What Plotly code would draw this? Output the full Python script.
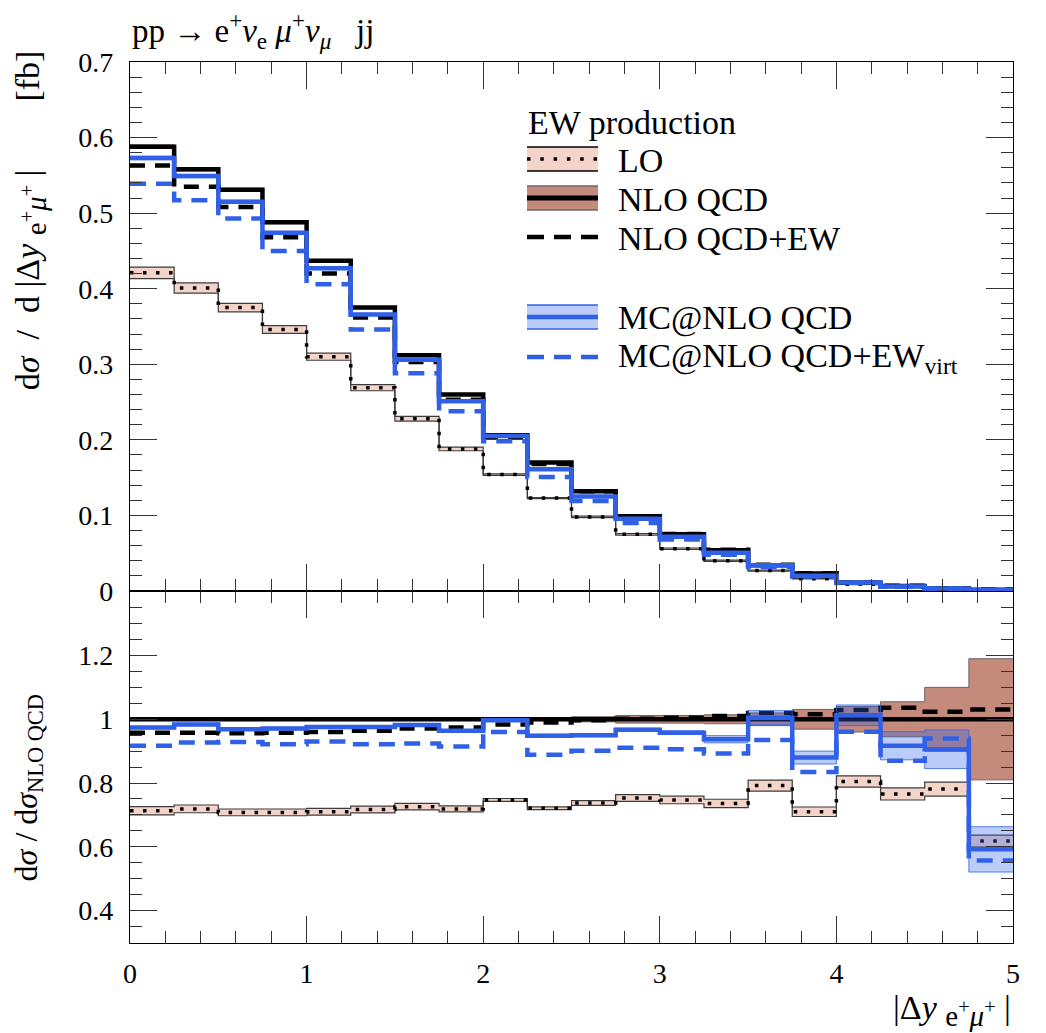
import plotly.graph_objects as go

# ---------------- data ----------------
bin_edges = [0.0, 0.25, 0.5, 0.75, 1.0, 1.25, 1.5, 1.75, 2.0, 2.25, 2.5,
             2.75, 3.0, 3.25, 3.5, 3.75, 4.0, 4.25, 4.5, 4.75, 5.0]

# top panel: d sigma / d|Delta y| [fb]
lo = [0.421, 0.401, 0.375, 0.346, 0.310, 0.269, 0.228, 0.188, 0.154, 0.123,
      0.098, 0.075, 0.056, 0.040, 0.027, 0.0163, 0.0089, 0.0051, 0.0028, 0.0011]
nlo_qcd = [0.588, 0.558, 0.531, 0.488, 0.437, 0.375, 0.312, 0.260, 0.206, 0.170,
           0.132, 0.099, 0.075, 0.054, 0.034, 0.023, 0.011, 0.0066, 0.0036, 0.0017]
nlo_qcd_ew = [0.563, 0.535, 0.508, 0.468, 0.420, 0.362, 0.303, 0.253, 0.203, 0.168,
              0.132, 0.099, 0.0754, 0.0545, 0.0347, 0.0234, 0.0113, 0.0068, 0.0037, 0.0018]
mc_qcd = [0.573, 0.549, 0.515, 0.474, 0.427, 0.366, 0.306, 0.251, 0.205, 0.161,
          0.125, 0.0957, 0.0719, 0.0506, 0.0342, 0.0202, 0.0111, 0.0061, 0.0033, 0.0010]
mc_qcd_ew = [0.539, 0.517, 0.493, 0.450, 0.406, 0.346, 0.288, 0.238, 0.198, 0.151,
             0.119, 0.090, 0.068, 0.048, 0.0318, 0.0192, 0.0106, 0.0057, 0.0034, 0.00095]

# bottom panel: ratio to NLO QCD
ratio_lo = [0.713, 0.719, 0.708, 0.708, 0.710, 0.717, 0.726, 0.719, 0.747, 0.721,
            0.7375, 0.753, 0.747, 0.736, 0.792, 0.710, 0.805, 0.766, 0.781, 0.618]
ratio_nlo_qcd = [1.0] * 20
ratio_nlo_qcd_ew = [0.958, 0.958, 0.956, 0.958, 0.960, 0.964, 0.971, 0.974, 0.984, 0.990,
                    0.997, 1.002, 1.005, 1.010, 1.020, 1.016, 1.029, 1.036, 1.024, 1.031]
ratio_mc_qcd = [0.974, 0.984, 0.969, 0.971, 0.976, 0.976, 0.982, 0.964, 0.997, 0.948,
                0.950, 0.967, 0.958, 0.9375, 1.005, 0.880, 1.0125, 0.917, 0.906, 0.592]
ratio_mc_qcd_ew = [0.917, 0.927, 0.929, 0.922, 0.930, 0.922, 0.924, 0.915, 0.960, 0.889,
                   0.901, 0.911, 0.906, 0.893, 0.935, 0.835, 0.961, 0.870, 0.940, 0.557]

# relative scale-uncertainty half widths
unc_lo = [0.018, 0.017, 0.015, 0.015, 0.015, 0.015, 0.014, 0.013, 0.006, 0.006,
          0.010, 0.014, 0.016, 0.018, 0.022, 0.021, 0.022, 0.025, 0.028, 0.030]
unc_nlo = [0.004, 0.004, 0.004, 0.004, 0.004, 0.004, 0.004, 0.004, 0.004, 0.004,
           0.008, 0.012, 0.012, 0.014, 0.020, 0.031, 0.040, 0.055, 0.100, 0.190]
unc_mc = [0.004, 0.004, 0.004, 0.004, 0.004, 0.004, 0.004, 0.004, 0.004, 0.005,
          0.005, 0.005, 0.006, 0.012, 0.022, 0.023, 0.032, 0.048, 0.067, 0.120]

# ---------------- styles ----------------
FONT = "Liberation Serif"
BLUE = "rgb(48,96,232)"
BLUE_FILL = "rgba(48,96,232,0.32)"
BROWN = "rgb(196,138,124)"
PINK = "rgb(244,211,201)"
EDGE = "rgb(60,60,60)"


def step(v):
    return list(v) + [v[-1]]


fig = go.Figure()


def band(vals, unc, fill, edge, xa, ya, ew=1.2):
    lo_v = [v * (1 - u) for v, u in zip(vals, unc)]
    hi_v = [v * (1 + u) for v, u in zip(vals, unc)]
    fig.add_trace(go.Scatter(x=bin_edges, y=step(lo_v), mode="lines", line_shape="hv",
                             line=dict(color=edge, width=ew), xaxis=xa, yaxis=ya,
                             showlegend=False, hoverinfo="skip"))
    fig.add_trace(go.Scatter(x=bin_edges, y=step(hi_v), mode="lines", line_shape="hv",
                             line=dict(color=edge, width=ew), fill="tonexty", fillcolor=fill,
                             xaxis=xa, yaxis=ya, showlegend=False, hoverinfo="skip"))


def line(vals, color, width, dash, xa, ya):
    fig.add_trace(go.Scatter(x=bin_edges, y=step(vals), mode="lines", line_shape="hv",
                             line=dict(color=color, width=width, dash=dash),
                             xaxis=xa, yaxis=ya, showlegend=False, hoverinfo="skip"))


for (xa, ya, v_lo, v_nlo, v_nloew, v_mc, v_mcew) in [
        ("x2", "y2", lo, nlo_qcd, nlo_qcd_ew, mc_qcd, mc_qcd_ew),
        ("x", "y", ratio_lo, ratio_nlo_qcd, ratio_nlo_qcd_ew, ratio_mc_qcd, ratio_mc_qcd_ew)]:
    band(v_lo, unc_lo, PINK, EDGE, xa, ya)
    line(v_lo, "black", 3.5, "3.5px,9.5px", xa, ya)
    band(v_nlo, unc_nlo, BROWN, "rgb(110,100,100)", xa, ya, ew=1)
    line(v_nlo, "black", 4.5, "solid", xa, ya)
    line(v_nloew, "black", 4.5, "15px,10px", xa, ya)
    band(v_mc, unc_mc, BLUE_FILL, "rgba(48,96,232,0.8)", xa, ya, ew=1)
    line(v_mc, BLUE, 4.5, "solid", xa, ya)
    line(v_mcew, BLUE, 4.5, "16px,10px", xa, ya)

# ---------------- axes ----------------
tickfont = dict(family=FONT, size=28, color="black")
xcommon = dict(range=[0, 5], ticks="inside", ticklen=27, tickwidth=1.2, tickcolor="#333",
               tick0=0, dtick=1,
               minor=dict(ticks="inside", ticklen=12, tickwidth=1.2, tickcolor="#333",
                          tick0=0, dtick=0.2),
               mirror="allticks", showline=True, linecolor="black", linewidth=1.1,
               showgrid=False, zeroline=False, tickfont=tickfont, ticklabelstandoff=5)
ycommon = dict(ticks="inside", ticklen=27, tickwidth=1.2, tickcolor="#333",
               mirror="allticks", showline=True, linecolor="black", linewidth=1.1,
               showgrid=False, zeroline=False, tickfont=tickfont, ticklabelstandoff=10)

# page body has an 8px margin: plot area spans x 130..1013, y 62..943 in the window
W, H = 1038, 1025
split = 0.39955
fig.update_layout(
    width=W, height=H,
    margin=dict(l=122, r=33, t=54, b=90),
    paper_bgcolor="white", plot_bgcolor="white",
    showlegend=False,
    xaxis=dict(domain=[0, 1], anchor="y", showticklabels=True, **xcommon),
    xaxis2=dict(domain=[0, 1], anchor="y2", matches="x", showticklabels=False, **xcommon),
    yaxis=dict(domain=[0, split], anchor="x", range=[0.2983, 1.4024],
               tickmode="array", tickvals=[0.4, 0.6, 0.8, 1.0, 1.2],
               ticktext=["0.4", "0.6", "0.8", "1", "1.2"],
               minor=dict(ticks="inside", ticklen=12, tickwidth=1.2, tickcolor="#333",
                          tick0=0, dtick=0.05),
               **ycommon),
    yaxis2=dict(domain=[split, 1], anchor="x2", range=[0, 0.7], tick0=0, dtick=0.1,
                minor=dict(ticks="inside", ticklen=12, tickwidth=1.2, tickcolor="#333",
                           tick0=0, dtick=0.02),
                **ycommon),
)

# ---------------- text ----------------
afont = dict(family=FONT, size=34, color="black")
SUB_EMU = ('<sub><span style="font-size:29px">e<sup>+</sup>'
           '<i>μ</i><sup>+</sup></span></sub>')
ann = []
ann.append(dict(text="pp → e<sup>+</sup><i>ν</i><sub>e</sub> <i>μ</i><sup>+</sup><i>ν</i><sub><i>μ</i></sub>   jj",
                xref="paper", yref="paper", x=0, y=1, xanchor="left", yanchor="bottom",
                yshift=6, showarrow=False, font=dict(family=FONT, size=33, color="black")))
ann.append(dict(text="d<i>σ</i>  /  d |Δ<i>y</i> " + SUB_EMU + " |        [fb]",
                xref="paper", yref="paper", x=-0.113, y=1, xanchor="center", yanchor="top",
                yshift=14, textangle=-90, showarrow=False, font=afont))
ann.append(dict(text="d<i>σ</i> / d<i>σ</i><sub>NLO QCD</sub>",
                xref="paper", yref="paper", x=-0.115, y=0.176, xanchor="center",
                yanchor="middle", textangle=-90, showarrow=False,
                font=dict(family=FONT, size=32, color="black")))
ann.append(dict(text="|Δ<i>y</i> " + SUB_EMU + " |",
                xref="paper", yref="paper", x=1, y=0, xanchor="right", yanchor="top",
                yshift=-44, showarrow=False, font=afont))


# legend (drawn manually); pixel positions measured in the 1046x1033 window
def px_x(p):
    return (p - 130) / 883.0


def px_y(p):
    return (943 - p) / 881.0


lfont = dict(family=FONT, size=34, color="black")
x0, x1, xt = px_x(527), px_x(598), px_x(616)
ann.append(dict(text="EW production", xref="paper", yref="paper", x=px_x(526), y=px_y(122),
                xanchor="left", yanchor="middle", showarrow=False, font=lfont))
legend_items = [
    ("LO", 159, "band_dots"),
    ("NLO QCD", 198, "band_nlo"),
    ("NLO QCD+EW", 237, "dash_black"),
    ("MC@NLO QCD", 317, "band_mc"),
    ("MC@NLO QCD+EW<sub>virt</sub>", 357, "dash_blue"),
]
shapes = []
for label, yc, kind in legend_items:
    ann.append(dict(text=label, xref="paper", yref="paper", x=xt, y=px_y(yc + 1),
                    xanchor="left", yanchor="middle", showarrow=False, font=lfont))
    if kind.startswith("band"):
        fillc, edgec = {"band_dots": (PINK, "black"), "band_nlo": (BROWN, "rgb(110,100,100)"),
                        "band_mc": (BLUE_FILL, BLUE)}[kind]
        shapes.append(dict(type="rect", xref="paper", yref="paper", x0=x0, x1=x1,
                           y0=px_y(yc - 12), y1=px_y(yc + 12), fillcolor=fillc,
                           line=dict(width=0), layer="above"))
        for e in (yc - 12, yc + 12):
            shapes.append(dict(type="line", xref="paper", yref="paper", x0=x0, x1=x1,
                               y0=px_y(e), y1=px_y(e), line=dict(color=edgec, width=1.3)))
        if kind == "band_dots":
            shapes.append(dict(type="line", xref="paper", yref="paper", x0=x0, x1=x1,
                               y0=px_y(yc), y1=px_y(yc),
                               line=dict(color="black", width=3.5, dash="3.5px,9.8px")))
        elif kind == "band_nlo":
            shapes.append(dict(type="line", xref="paper", yref="paper", x0=x0, x1=x1,
                               y0=px_y(yc), y1=px_y(yc), line=dict(color="black", width=5)))
        else:
            shapes.append(dict(type="line", xref="paper", yref="paper", x0=x0, x1=x1,
                               y0=px_y(yc), y1=px_y(yc), line=dict(color=BLUE, width=4.5)))
    else:
        col = "black" if kind == "dash_black" else BLUE
        shapes.append(dict(type="line", xref="paper", yref="paper", x0=x0, x1=x1,
                           y0=px_y(yc), y1=px_y(yc),
                           line=dict(color=col, width=4.5, dash="17px,10px")))

fig.update_layout(annotations=ann, shapes=shapes)
fig.write_html("out.html")
